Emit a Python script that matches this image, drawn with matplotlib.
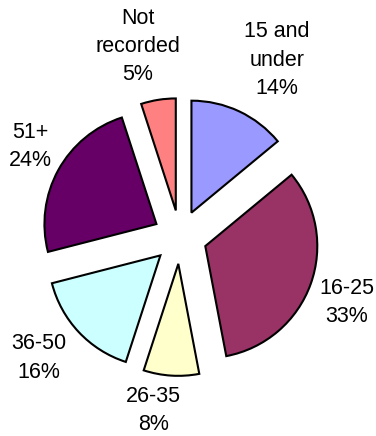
import numpy as np
import matplotlib
matplotlib.use('Agg')
import matplotlib.pyplot as plt

# age groups and their shares
labels = ['15 and\nunder', '16-25', '26-35', '36-50', '51+', 'Not\nrecorded']
shares = [14, 33, 8, 16, 24, 5]
colors = ['#9999FF', '#993366', '#FFFFCC', '#CCFFFF', '#660066', '#FF8080']

# label placement: distance (radii from the exploded slice centre) and angle nudge (deg)
lab_dist = [1.56, 1.36, 1.33, 1.42, 1.32, 1.50]
lab_turn = [-4, -2, -6, -3, -3, 4]

plt.rcParams['font.family'] = ['Liberation Sans', 'DejaVu Sans']

fig = plt.figure(figsize=(3.76, 4.36), dpi=100)
ax = fig.add_axes([0, 0, 1, 1])

explode = 0.24
wedges, _ = ax.pie(shares, colors=colors, startangle=90, counterclock=False,
                   explode=[explode] * len(shares),
                   wedgeprops=dict(edgecolor='black', linewidth=1.5))

for w, lab, val, d, t in zip(wedges, labels, shares, lab_dist, lab_turn):
    mid = np.deg2rad((w.theta1 + w.theta2) / 2 + t)
    cx, cy = w.center
    ax.text(cx + d * np.cos(mid), cy + d * np.sin(mid), '%s\n%d%%' % (lab, val),
            ha='center', va='center', fontsize=15.5, linespacing=1.45)

# pie centre at (180, 237) px, radius 112 px
r = 112.0
ax.set_xlim(-180 / r, (376 - 180) / r)
ax.set_ylim(-(436 - 237) / r, 237 / r)
ax.set_aspect('auto')
ax.axis('off')

fig.savefig('out.png', dpi=100)
